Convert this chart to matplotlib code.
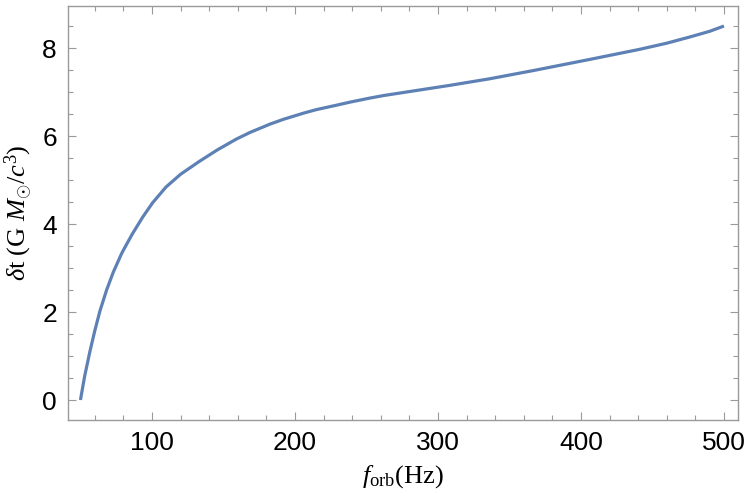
import matplotlib
matplotlib.use("Agg")
import matplotlib.pyplot as plt
from matplotlib.ticker import MultipleLocator

f_orb = [50, 53, 56.6, 60, 63.6, 68.3, 72.9, 78.8, 81.6, 86.4, 93.4, 100.4, 109.8,
         120, 133, 145.5, 159, 168.5, 182.5, 192, 206, 215, 229, 238.5, 252, 262,
         286, 308, 336, 367, 406, 441, 460, 476, 490, 500]
delta_t = [0.0, 0.55, 1.10, 1.57, 2.02, 2.50, 2.90, 3.33, 3.50, 3.78, 4.15, 4.48,
           4.84, 5.13, 5.42, 5.68, 5.93, 6.08, 6.27, 6.38, 6.52, 6.60, 6.70, 6.77,
           6.86, 6.92, 7.04, 7.15, 7.30, 7.49, 7.74, 7.97, 8.11, 8.25, 8.38, 8.50]

x_ticks = [100, 200, 300, 400, 500]
y_ticks = [0, 2, 4, 6, 8]

plt.rcParams['mathtext.fontset'] = 'custom'
plt.rcParams['mathtext.rm'] = 'Liberation Serif'
plt.rcParams['mathtext.it'] = 'Liberation Serif:italic'
plt.rcParams['mathtext.bf'] = 'Liberation Serif:bold'

fig = plt.figure(figsize=(7.5, 5.03), dpi=100)
ax = fig.add_axes([68/750, 83/503, 670/750, 414/503])

ax.plot(f_orb, delta_t, color='#5E81B5', lw=2.3, solid_capstyle='butt',
        solid_joinstyle='round')

ax.set_xlim(41.3, 509.8)
ax.set_ylim(-0.4545, 8.955)
ax.set_xticks(x_ticks)
ax.set_yticks(y_ticks)
ax.xaxis.set_minor_locator(MultipleLocator(20))
ax.yaxis.set_minor_locator(MultipleLocator(0.5))

frame_col = '#9a9a9a'
for s in ax.spines.values():
    s.set_color(frame_col)
    s.set_linewidth(1.0)
ax.tick_params(which='both', direction='in', top=True, right=True,
               color=frame_col, width=0.8)
ax.tick_params(which='major', length=6, labelsize=19, pad=8)
ax.tick_params(which='minor', length=3.5)
for lab in ax.get_xticklabels() + ax.get_yticklabels():
    lab.set_family('Liberation Sans')

ax.set_xlabel(r'$f_{\mathrm{orb}}\mathrm{(Hz)}$', fontsize=19, labelpad=6)
ax.set_ylabel(r'$\delta\mathrm{t}\ (\mathrm{G}\ M_{\odot}/c^3)$', fontsize=19, labelpad=6)

fig.savefig('out.png', dpi=100)
